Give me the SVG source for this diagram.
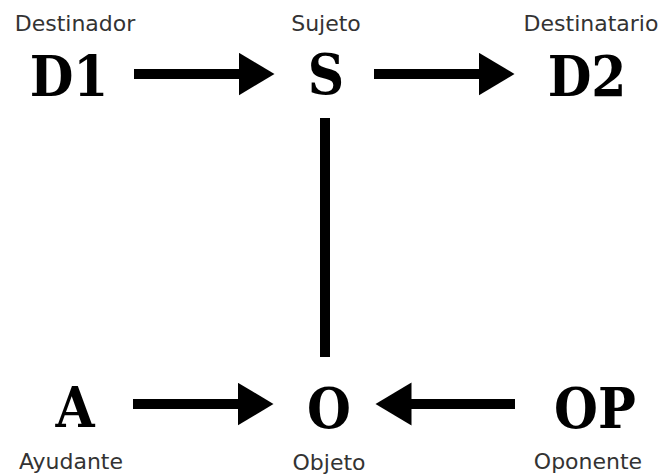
<svg xmlns="http://www.w3.org/2000/svg" width="662" height="474" viewBox="0 0 662 474">
<style>
.big{font-family:"DejaVu Serif",serif;font-stretch:condensed;font-weight:bold;font-size:56px;fill:#000;text-anchor:middle}
.lbl{font-family:"DejaVu Sans",sans-serif;font-size:22px;fill:#333;text-anchor:middle}
.conn{stroke:#000;stroke-width:10;fill:none}
</style>
<defs>
<marker id="ah" markerUnits="userSpaceOnUse" markerWidth="37" markerHeight="44" refX="0.5" refY="21.5" orient="auto">
<path d="M0,0 L36,21.5 L0,43 Z" fill="#000"/>
</marker>
</defs>
<rect width="662" height="474" fill="#fff"/>
<g id="connectors">
<line class="conn" x1="134" y1="74" x2="239" y2="74" marker-end="url(#ah)"/>
<line class="conn" x1="374" y1="74" x2="479" y2="74" marker-end="url(#ah)"/>
<line class="conn" x1="325" y1="118" x2="325" y2="357"/>
<line class="conn" x1="133" y1="404" x2="238" y2="404" marker-end="url(#ah)"/>
<line class="conn" x1="515" y1="404" x2="411" y2="404" marker-end="url(#ah)"/>
</g>
<g id="D1">
<text class="lbl" x="75" y="31">Destinador</text>
<text class="big" x="69" y="96">D1</text>
</g>
<g id="S">
<text class="lbl" x="326" y="31">Sujeto</text>
<text class="big" x="326" y="94">S</text>
</g>
<g id="D2">
<text class="lbl" x="591" y="31">Destinatario</text>
<text class="big" x="587" y="96">D2</text>
</g>
<g id="A">
<text class="big" x="75" y="427">A</text>
<text class="lbl" x="71" y="469">Ayudante</text>
</g>
<g id="O">
<text class="big" x="329" y="428">O</text>
<text class="lbl" x="329" y="470">Objeto</text>
</g>
<g id="OP">
<text class="big" x="595" y="428">OP</text>
<text class="lbl" x="588" y="469">Oponente</text>
</g>
</svg>
